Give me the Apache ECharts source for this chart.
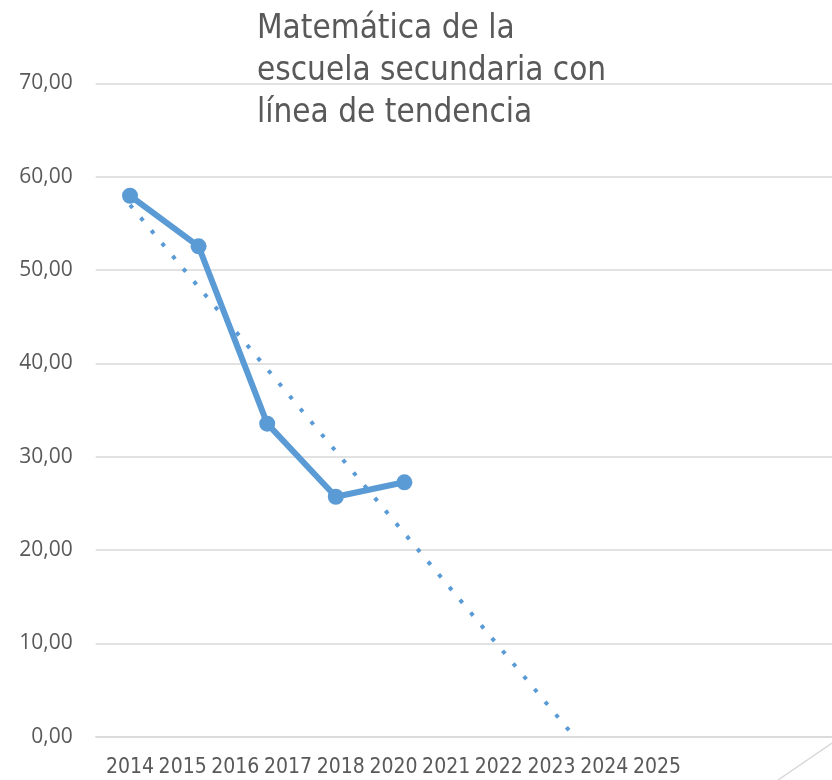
<!DOCTYPE html>
<html>
<head>
<meta charset="utf-8">
<script src="https://cdn.jsdelivr.net/npm/echarts@6/dist/echarts.min.js"></script>
<style>
html,body{margin:0;padding:0;background:#fff;}
#chart{width:832px;height:780px;}
</style>
</head>
<body>
<div id="chart"></div>
<script>
var categories = ['2014','2015','2016','2017','2018','2020','2021','2022','2023','2024','2025'];
var scores = [57.96, 52.54, 33.54, 25.71, 27.26, null, null, null, null, null, null];
var trend = [56.98, null, null, null, null, null, null, -4.6, null, null, null];
var yTicks = [0, 10, 20, 30, 40, 50, 60, 70];
var titleLines = ['Matemática de la', 'escuela secundaria con', 'línea de tendencia'];

var BLUE = '#5B9BD5';
var GRID = '#D9D9D9';
var TEXT = '#595959';
var NARROW = '"Liberation Sans Narrow", "DejaVu Sans Condensed", sans-serif';

var chart = echarts.init(document.getElementById('chart'), null, {renderer: 'canvas'});
chart.setOption({
  animation: false,
  backgroundColor: '#ffffff',
  title: {
    text: titleLines.join('\n'),
    left: 252,
    top: 3,
    textStyle: {
      fontFamily: NARROW,
      fontSize: 33,
      lineHeight: 42,
      fontWeight: 'normal',
      color: TEXT
    }
  },
  grid: [
    {left: 95.7, top: 83.4, width: 754.6, height: 653.3, outerBoundsMode: 'none'},
    {left: 103.6, top: 83.4, width: 579.7, height: 653.3, outerBoundsMode: 'none'}
  ],
  xAxis: [
    {
      type: 'category', gridIndex: 0, data: categories, boundaryGap: true,
      axisLine: {show: true, lineStyle: {color: GRID, width: 1.5}},
      axisTick: {show: false},
      axisLabel: {show: false},
      splitLine: {show: false}
    },
    {
      type: 'category', gridIndex: 1, data: categories, boundaryGap: true,
      axisLine: {show: false},
      axisTick: {show: false},
      splitLine: {show: false},
      axisLabel: {
        show: true, interval: 0, margin: 20,
        fontFamily: NARROW, fontSize: 21, color: TEXT
      }
    }
  ],
  yAxis: [
    {
      type: 'value', gridIndex: 0, min: yTicks[0], max: yTicks[yTicks.length - 1], interval: 10,
      axisLine: {show: false},
      axisTick: {show: false},
      splitLine: {show: true, lineStyle: {color: GRID, width: 1.5}},
      axisLabel: {
        margin: 23,
        fontFamily: '"Open Sans", sans-serif', fontSize: 21, color: TEXT,
        formatter: function (v) { return v.toFixed(2).replace('.', ','); }
      }
    },
    {
      type: 'value', gridIndex: 1, min: 0, max: 70, show: false
    }
  ],
  series: [
    {
      name: 'Trend', type: 'line', xAxisIndex: 0, yAxisIndex: 0,
      data: trend, connectNulls: true, showSymbol: false, symbol: 'none',
      clip: true, silent: true,
      lineStyle: {color: BLUE, width: 4, type: [4, 12.6], cap: 'butt'},
      z: 2
    },
    {
      name: 'Matemática', type: 'line', xAxisIndex: 0, yAxisIndex: 0,
      data: scores, symbol: 'circle', symbolSize: 16,
      itemStyle: {color: BLUE},
      lineStyle: {color: BLUE, width: 6},
      z: 3
    }
  ],
  graphic: [
    {
      type: 'line', silent: true,
      shape: {x1: 832, y1: 743, x2: 778, y2: 780},
      style: {stroke: GRID, lineWidth: 1.5}
    }
  ]
});
</script>
</body>
</html>
